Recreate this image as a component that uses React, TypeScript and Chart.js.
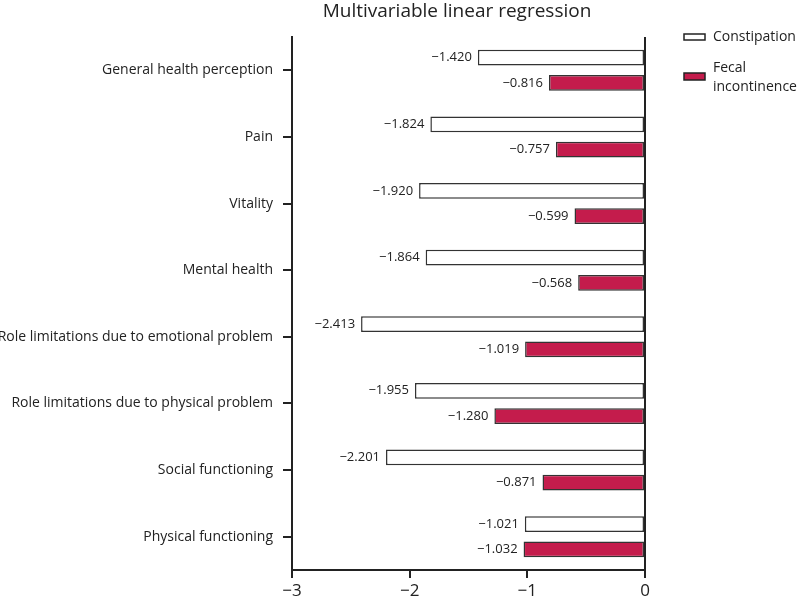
import React, { useEffect, useRef } from "react";
import { Chart, registerables } from "chart.js";

Chart.register(...registerables);

const categories = [
  "General health perception",
  "Pain",
  "Vitality",
  "Mental health",
  "Role limitations due to emotional problem",
  "Role limitations due to physical problem",
  "Social functioning",
  "Physical functioning",
];
const constipation = [-1.42, -1.824, -1.92, -1.864, -2.413, -1.955, -2.201, -1.021];
const fecalIncontinence = [-0.816, -0.757, -0.599, -0.568, -1.019, -1.28, -0.871, -1.032];
const xTicks = [-3, -2, -1, 0];

const FONT = "'Open Sans', 'Noto Sans', sans-serif";
const RED = "#C41C4C";
const DARK = "#222222";

const fmt = (v: number) => (v < 0 ? "\u2212" : "") + Math.abs(v).toFixed(3);

const overlayPlugin = {
  id: "overlay",
  afterDatasetsDraw(chart: any) {
    const ctx = chart.ctx;
    ctx.save();
    ctx.font = `13px ${FONT}`;
    ctx.fillStyle = DARK;
    ctx.textAlign = "right";
    ctx.textBaseline = "middle";
    chart.data.datasets.forEach((ds: any, i: number) => {
      const meta = chart.getDatasetMeta(i);
      meta.data.forEach((el: any, j: number) => {
        ctx.fillText(fmt(ds.data[j]), el.x - 6, el.y);
      });
    });
    // title
    ctx.font = `19px ${FONT}`;
    ctx.textAlign = "center";
    ctx.fillText("Multivariable linear regression", 457, 12);
    // legend
    ctx.font = `14px ${FONT}`;
    ctx.textAlign = "left";
    ctx.lineWidth = 1.5;
    ctx.strokeStyle = DARK;
    ctx.fillStyle = "#ffffff";
    ctx.fillRect(684, 34, 21, 6);
    ctx.strokeRect(684, 34, 21, 6);
    ctx.fillStyle = RED;
    ctx.fillRect(684, 73, 21, 7);
    ctx.strokeRect(684, 73, 21, 7);
    ctx.fillStyle = DARK;
    ctx.fillText("Constipation", 713, 37);
    ctx.fillText("Fecal", 713, 68);
    ctx.fillText("incontinence", 713, 87);
    ctx.restore();
  },
};

export default function App() {
  const ref = useRef<HTMLCanvasElement | null>(null);
  useEffect(() => {
    if (!ref.current) return;
    const chart = new Chart(ref.current, {
      type: "bar",
      data: {
        labels: categories,
        datasets: [
          {
            label: "Constipation",
            data: constipation,
            backgroundColor: "#ffffff",
            borderColor: "#333333",
            borderWidth: 1.5,
            borderSkipped: false,
            barPercentage: 0.62,
            categoryPercentage: 0.76,
          },
          {
            label: "Fecal incontinence",
            data: fecalIncontinence,
            backgroundColor: RED,
            borderColor: "#333333",
            borderWidth: 1.5,
            borderSkipped: false,
            barPercentage: 0.62,
            categoryPercentage: 0.76,
          },
        ],
      },
      options: {
        indexAxis: "y",
        animation: false,
        responsive: false,
        maintainAspectRatio: false,
        layout: { padding: { top: 37, right: 155, left: 0, bottom: 0 } },
        plugins: {
          legend: { display: false },
          title: { display: false },
          tooltip: { enabled: false },
        },
        scales: {
          x: {
            type: "linear",
            min: -3,
            max: 0,
            afterBuildTicks: (scale: any) => {
              scale.ticks = xTicks.map((v) => ({ value: v }));
            },
            afterFit: (scale: any) => {
              scale.height = 30;
            },
            border: { display: true, color: DARK, width: 2 },
            grid: {
              drawOnChartArea: true,
              color: (c: any) => (c.tick && c.tick.value === 0 ? DARK : "rgba(0,0,0,0)"),
              lineWidth: 2,
              tickColor: DARK,
              tickLength: 8,
            },
            ticks: {
              color: DARK,
              font: { family: FONT, size: 17 },
              padding: 3,
              callback: (v: any) => (Number(v) < 0 ? "\u2212" + Math.abs(Number(v)) : String(v)),
            },
          },
          y: {
            type: "category",
            afterFit: (scale: any) => {
              scale.width = 292;
            },
            border: { display: true, color: DARK, width: 2 },
            grid: {
              offset: false,
              drawOnChartArea: false,
              color: DARK,
              tickColor: DARK,
              lineWidth: 2,
              tickLength: 9,
            },
            ticks: {
              color: DARK,
              font: { family: FONT, size: 14 },
              padding: 10,
              autoSkip: false,
            },
          },
        },
      },
      plugins: [overlayPlugin],
    } as any);
    return () => chart.destroy();
  }, []);
  return (
    <div style={{ position: "fixed", left: 0, top: 0, width: 800, height: 600, background: "#fff" }}>
      <canvas ref={ref} width={800} height={600} style={{ width: 800, height: 600 }} />
    </div>
  );
}
